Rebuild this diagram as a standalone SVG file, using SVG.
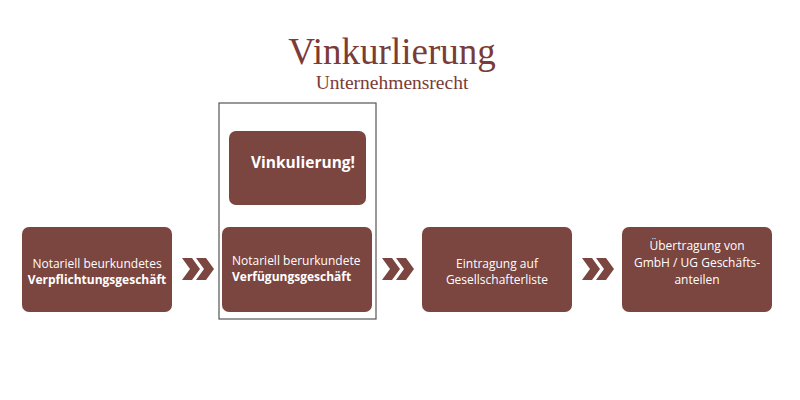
<svg xmlns="http://www.w3.org/2000/svg" width="800" height="400" viewBox="0 0 800 400">
<style>
.box{fill:#7b4540;}
.t{font-family:"Open Sans","Liberation Sans",sans-serif;font-size:12px;fill:#ffffff;}
.b{font-weight:bold;}
.c{text-anchor:middle;}
.big{font-size:15.5px;}
.chev{fill:#7b4540;}
.title{font-family:"Liberation Serif","DejaVu Serif",serif;fill:#7b3b36;text-anchor:middle;}
.h1{font-size:37px;}
.h2{font-size:19.5px;}
</style>
<rect width="800" height="400" fill="#ffffff"/>
<g id="title">
<text class="title h1" x="392" y="64">Vinkurlierung</text>
<text class="title h2" x="392" y="89">Unternehmensrecht</text>
</g>
<g id="frame">
<rect x="219" y="103" width="157" height="216" fill="none" stroke="#555555" stroke-width="1.2"/>
</g>
<g id="node-vinkulierung">
<rect class="box" x="229" y="131" width="137" height="74" rx="7"/>
<text class="t b big" x="251" y="168">Vinkulierung!</text>
</g>
<g id="node-1">
<rect class="box" x="22" y="227" width="150" height="85" rx="7"/>
<text class="t c" x="97" y="268">Notariell beurkundetes</text>
<text class="t c b" x="97" y="284">Verpflichtungsgeschäft</text>
</g>
<g id="node-2">
<rect class="box" x="222" y="227" width="150" height="85" rx="7"/>
<text class="t" x="232" y="265">Notariell berurkundete</text>
<text class="t b" x="232" y="281">Verfügungsgeschäft</text>
</g>
<g id="node-3">
<rect class="box" x="422" y="227" width="150" height="85" rx="7"/>
<text class="t c" x="497" y="268">Eintragung auf</text>
<text class="t c" x="497" y="284">Gesellschafterliste</text>
</g>
<g id="node-4">
<rect class="box" x="622" y="227" width="150" height="85" rx="7"/>
<text class="t c" x="697" y="250">Übertragung von</text>
<text class="t c" x="697" y="267">GmbH / UG Geschäfts-</text>
<text class="t c" x="697" y="284">anteilen</text>
</g>
<g id="connectors">
<defs>
<polygon id="ch" points="0,0 10,0 18,11 10,22 0,22 8,11"/>
</defs>
<use href="#ch" class="chev" x="182" y="258"/>
<use href="#ch" class="chev" x="196" y="258"/>
<use href="#ch" class="chev" x="382" y="258"/>
<use href="#ch" class="chev" x="396" y="258"/>
<use href="#ch" class="chev" x="582" y="258"/>
<use href="#ch" class="chev" x="596" y="258"/>
</g>
</svg>
